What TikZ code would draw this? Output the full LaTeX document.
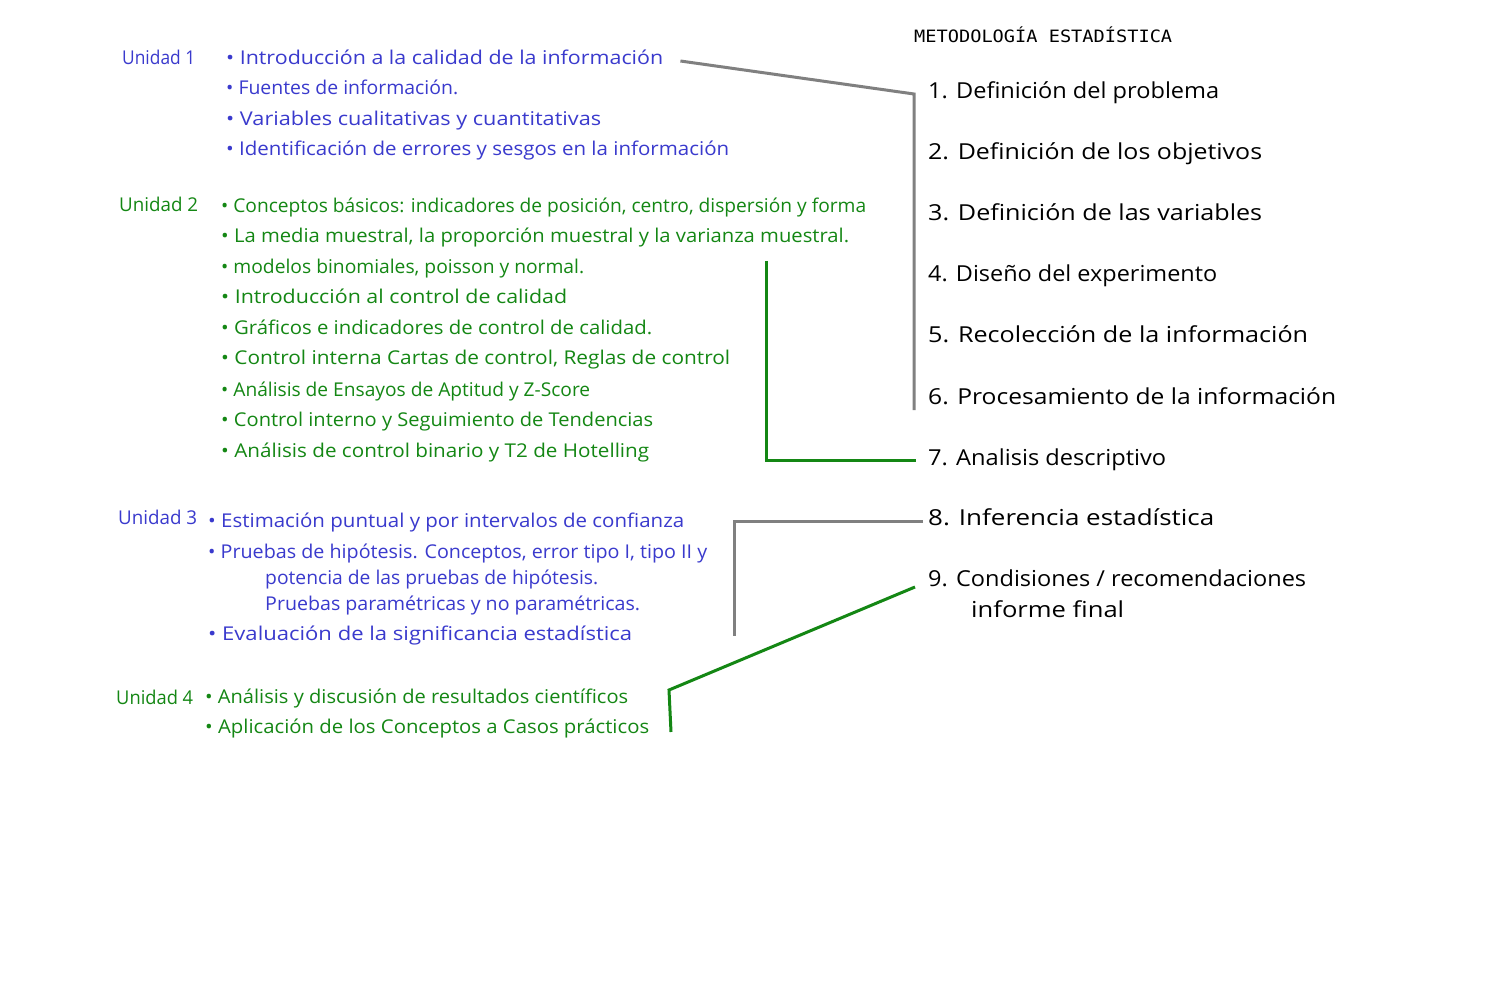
\documentclass[tikz,border=0pt]{standalone}
\usepackage{fontspec}
\setmainfont{Open Sans}
\newfontfamily\monof{DejaVu Sans Mono}
\usepackage{graphicx}
\definecolor{ublue}{RGB}{58,58,205}
\definecolor{ugreen}{RGB}{20,135,20}
\definecolor{lgray}{RGB}{128,128,128}
\newlength\fwlen
\newcommand\fw[2]{\settowidth\fwlen{#2}\pgfmathsetmacro\fwsx{#1/\fwlen}\scalebox{\fwsx}[1]{#2}}
\tikzset{
  lefttxt/.style={anchor=base west, inner sep=0pt, font=\fontsize{19}{22}\selectfont},
  righttxt/.style={anchor=base west, inner sep=0pt, font=\fontsize{22}{26}\selectfont, text=black},
  bluet/.style={lefttxt, text=ublue},
  greent/.style={lefttxt, text=ugreen},
  grayline/.style={draw=lgray, line width=3pt},
  greenline/.style={draw=ugreen, line width=3pt},
}
\begin{document}
\begin{tikzpicture}[x=1pt,y=-1pt]
\useasboundingbox[fill=white] (0,0) rectangle (1500,1000);
% Title
\node[anchor=base west, inner sep=0pt, font=\monof\fontsize{17}{20}\selectfont] (title) at (914,43) {\fw{258}{METODOLOGÍA ESTADÍSTICA}};
% Unidad 1
\node[bluet] (u1) at (122,65) {\fw{73}{Unidad 1}};
\node[bluet] (u1a) at (226,65) {\fw{437}{• Introducción a la calidad de la información}};
\node[bluet] (u1b) at (226,95) {\fw{232}{• Fuentes de información.}};
\node[bluet] (u1c) at (226,126) {\fw{375}{• Variables cualitativas y cuantitativas}};
\node[bluet] (u1d) at (226,156) {\fw{503}{• Identificación de errores y sesgos en la información}};
% Unidad 2
\node[greent] (u2) at (119,212) {\fw{79}{Unidad 2}};
\node[greent] (u2a) at (221,213) {\fw{645}{• Conceptos básicos: indicadores de posición, centro, dispersión y forma}};
\node[greent] (u2b) at (221,243) {\fw{628}{• La media muestral, la proporción muestral y la varianza muestral.}};
\node[greent] (u2c) at (221,274) {\fw{363}{•  modelos binomiales, poisson y normal.}};
\node[greent] (u2d) at (221,304) {\fw{346}{• Introducción al control de calidad}};
\node[greent] (u2e) at (221,335) {\fw{431}{• Gráficos e indicadores de control de calidad.}};
\node[greent] (u2f) at (221,365) {\fw{509}{• Control interna  Cartas de control, Reglas de control}};
\node[greent] (u2g) at (221,396) {\fw{369}{• Análisis de Ensayos de Aptitud y Z-Score}};
\node[greent] (u2h) at (221,426) {\fw{432}{• Control interno y Seguimiento de Tendencias}};
\node[greent] (u2i) at (221,457) {\fw{428}{• Análisis de control binario y T2 de Hotelling}};
% Unidad 3
\node[bluet] (u3) at (118,524) {\fw{79}{Unidad 3}};
\node[bluet] (u3a) at (208,527) {\fw{476}{• Estimación puntual y por intervalos de confianza}};
\node[bluet] (u3b) at (208,558) {\fw{499}{•  Pruebas de hipótesis. Conceptos, error tipo I, tipo II y}};
\node[bluet] (u3c) at (265,584) {\fw{333}{potencia de las pruebas de hipótesis.}};
\node[bluet] (u3d) at (265,610) {\fw{375}{Pruebas paramétricas y no paramétricas.}};
\node[bluet] (u3e) at (208,640) {\fw{424}{• Evaluación de la significancia estadística}};
% Unidad 4
\node[greent] (u4) at (116,704) {\fw{77}{Unidad 4}};
\node[greent] (u4a) at (205,703) {\fw{423}{• Análisis y discusión de resultados científicos}};
\node[greent] (u4b) at (205,733) {\fw{444}{• Aplicación de los Conceptos a Casos prácticos}};
% Right list
\node[righttxt] (m1) at (928,99) {\fw{291}{1.  Definición del problema}};
\node[righttxt] (m2) at (928,160) {\fw{334}{2.  Definición de los objetivos}};
\node[righttxt] (m3) at (928,221) {\fw{334}{3.  Definición de las variables}};
\node[righttxt] (m4) at (928,282) {\fw{289}{4.  Diseño del experimento}};
\node[righttxt] (m5) at (928,343) {\fw{380}{5.  Recolección de la información}};
\node[righttxt] (m6) at (928,404) {\fw{408}{6.  Procesamiento de la información}};
\node[righttxt] (m7) at (928,465) {\fw{238}{7.  Analisis descriptivo}};
\node[righttxt] (m8) at (928,525) {\fw{286}{8. Inferencia estadística}};
\node[righttxt] (m9) at (928,586) {\fw{378}{9. Condisiones / recomendaciones}};
\node[righttxt] (m9b) at (971,617) {\fw{153}{informe final}};
% connectors
\coordinate (g1s) at ([xshift=17pt]u1a.east |- 0,61);
\coordinate (g1a) at (914,94);
\coordinate (g1b) at (914,410);
\draw[grayline] (g1s) -- (g1a) -- (g1b);
\coordinate (gr2top) at (766,261);
\coordinate (gr2end) at ([xshift=-12pt]m7.west |- 0,460);
\draw[greenline] (gr2top) -- (766,460) -- (gr2end);
\coordinate (g3s) at ([xshift=-5pt]m8.west |- 0,521);
\coordinate (g3b) at (734,636);
\draw[grayline] (g3s) -- (734,521) -- (g3b);
\coordinate (gr4s) at ([xshift=-13pt]m9.west |- 0,587);
\coordinate (gr4b) at (671,732);
\draw[greenline] (gr4s) -- (669,690) -- (gr4b);
\end{tikzpicture}
\end{document}
